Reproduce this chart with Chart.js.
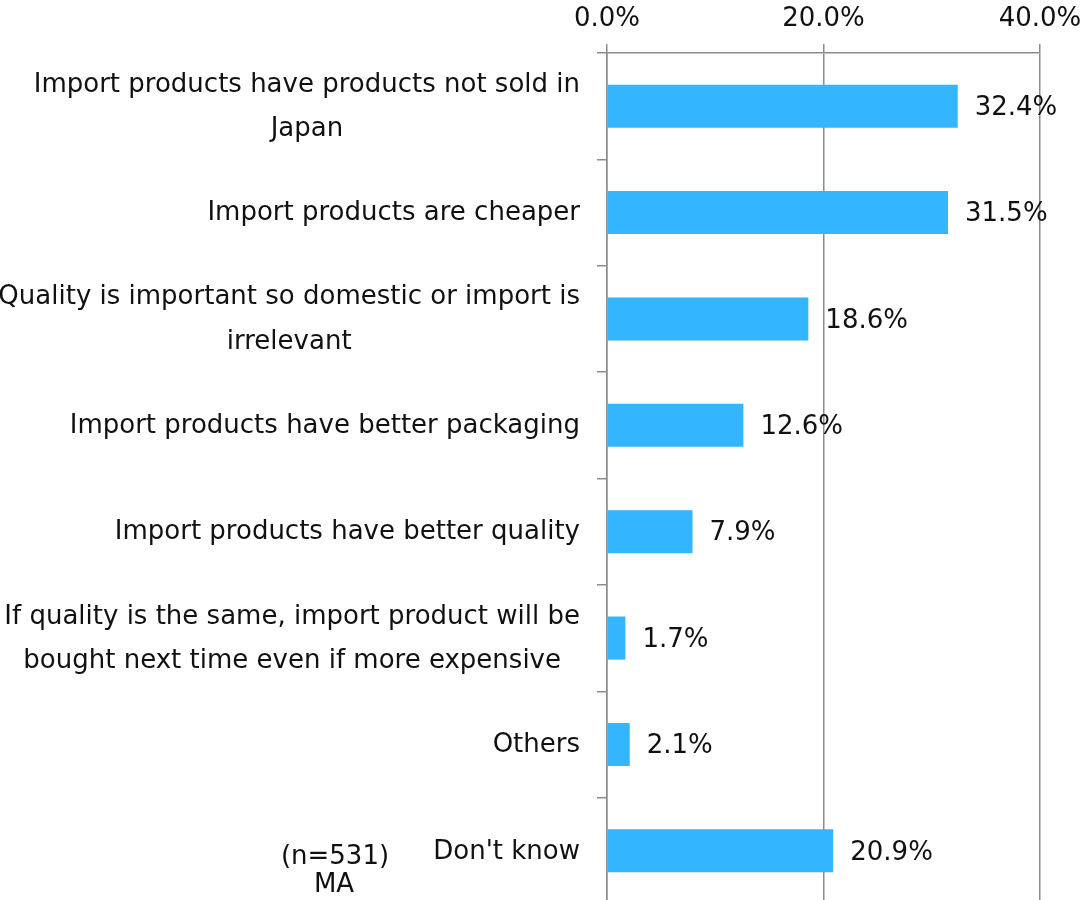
<!DOCTYPE html>
<html>
<head>
<meta charset="utf-8">
<script src="https://cdn.jsdelivr.net/npm/chart.js@4.4.1/dist/chart.umd.min.js"></script>
<style>
html,body{margin:0;padding:0;background:#fff;overflow:hidden;}
#wrap{width:1087px;height:900px;overflow:hidden;}
</style>
</head>
<body>
<div id="wrap"><canvas id="c" width="1087" height="904"></canvas></div>
<script>
const categories = [
  ["Import products have products not sold in", "Japan"],
  ["Import products are cheaper"],
  ["Quality is important so domestic or import is", "irrelevant"],
  ["Import products have better packaging"],
  ["Import products have better quality"],
  ["If quality is the same, import product will be", "bought next time even if more expensive"],
  ["Others"],
  ["Don't know"]
];
const values = [32.4, 31.5, 18.6, 12.6, 7.9, 1.7, 2.1, 20.9];
const xTicks = [0, 20, 40];
const noteLines = ["(n=531)", "MA"];

const FONT = '"DejaVu Sans", Verdana, sans-serif';
const GRID = '#8c8c8c';
const TEXT = '#111111';

const labelPlugin = {
  id: 'customLabels',
  afterDraw(chart) {
    const ctx = chart.ctx;
    const yScale = chart.scales.y;
    const meta = chart.getDatasetMeta(0);
    ctx.save();
    ctx.font = '26px ' + FONT;
    ctx.fillStyle = TEXT;
    const rightEdge = yScale.right - 27;
    categories.forEach((lines, i) => {
      const yc = yScale.getPixelForValue(i) + 1;
      const lh = 44.5;
      const widths = lines.map(l => ctx.measureText(l).width);
      const bw = Math.max(...widths);
      const cx = rightEdge - bw / 2;
      ctx.textAlign = 'center';
      ctx.textBaseline = 'middle';
      lines.forEach((l, k) => {
        const y = yc - (lines.length - 1) * lh / 2 + k * lh;
        ctx.fillText(l, cx, y);
      });
    });
    ctx.textAlign = 'left';
    ctx.textBaseline = 'middle';
    meta.data.forEach((bar, i) => {
      ctx.fillText(values[i].toFixed(1) + '%', bar.x + 17, bar.y + 2);
    });
    ctx.textAlign = 'center';
    ctx.fillText(noteLines[0], 335, 857);
    ctx.fillText(noteLines[1], 334, 885);
    ctx.restore();
  }
};

new Chart(document.getElementById('c'), {
  type: 'bar',
  data: {
    labels: categories,
    datasets: [{
      data: values,
      backgroundColor: '#33b5ff',
      borderWidth: 0,
      barPercentage: 0.405,
      categoryPercentage: 1.0
    }]
  },
  options: {
    indexAxis: 'y',
    responsive: false,
    animation: false,
    devicePixelRatio: 1,
    layout: { padding: { top: 0, right: 47, bottom: 0, left: 0 } },
    plugins: { legend: { display: false }, tooltip: { enabled: false } },
    scales: {
      x: {
        position: 'top',
        min: 0,
        max: 40,
        afterBuildTicks(scale) { scale.ticks = xTicks.map(v => ({ value: v })); },
        afterFit(scale) { scale.height = 53; scale.paddingLeft = 0; scale.paddingRight = 0; },
        ticks: {
          font: { family: FONT, size: 26 },
          color: TEXT,
          padding: 9,
          callback: v => Number(v).toFixed(1) + '%'
        },
        grid: { color: GRID, lineWidth: 1.5, tickLength: 9, drawTicks: true },
        border: { display: true, color: GRID, width: 1.5 }
      },
      y: {
        afterFit(scale) { scale.width = 607; },
        ticks: { display: false },
        grid: { offset: true, drawOnChartArea: false, drawTicks: true, tickLength: 10, color: GRID, lineWidth: 1.5 },
        border: { display: true, color: GRID, width: 1.5 }
      }
    }
  },
  plugins: [labelPlugin]
});
</script>
</body>
</html>
